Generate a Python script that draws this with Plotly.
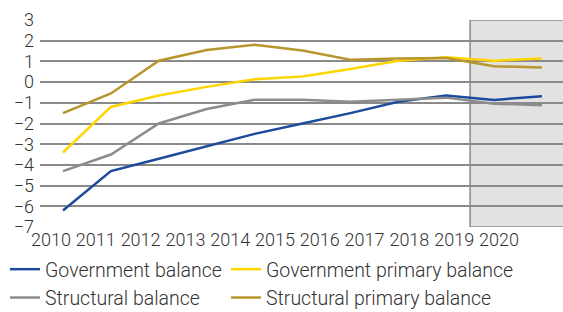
import plotly.graph_objects as go

years = list(range(2010, 2021))
gov_balance = [-6.2, -4.3, -3.7, -3.1, -2.5, -2.0, -1.5, -0.95, -0.65, -0.86, -0.68]
gov_primary = [-3.4, -1.2, -0.65, -0.23, 0.14, 0.27, 0.63, 1.03, 1.2, 1.03, 1.14]
struct_balance = [-4.3, -3.5, -2.0, -1.3, -0.85, -0.85, -0.95, -0.86, -0.75, -1.04, -1.12]
struct_primary = [-1.5, -0.55, 1.03, 1.55, 1.8, 1.53, 1.08, 1.14, 1.16, 0.77, 0.70]
series_names = ["Government balance", "Government primary balance",
                "Structural balance", "Structural primary balance"]
colors = ["#1c4a9c", "#ffd500", "#8c8c8c", "#b8962e"]
legend_groups = ["legend", "legend2", "legend", "legend2"]
y_ticks = list(range(-7, 4))
forecast_start = 2018.5

FONT = dict(family="Roboto", size=18, color="#333333", weight=300)
LFONT = dict(family="Roboto", size=19.5, color="#333333", weight=300)

fig = go.Figure()
for name, vals, col, lg in zip(series_names,
                               [gov_balance, gov_primary, struct_balance, struct_primary],
                               colors, legend_groups):
    fig.add_trace(go.Scatter(x=years, y=vals, mode="lines", name=name,
                             line=dict(color=col, width=2.5), legend=lg))

# invisible carrier trace so the tick-label axis is drawn
fig.add_trace(go.Scatter(x=years, y=[None] * len(years), xaxis="x2",
                         showlegend=False, hoverinfo="skip"))

fig.add_shape(type="rect", xref="x", yref="y", x0=forecast_start, x1=2021,
              y0=-7, y1=3, fillcolor="#e2e2e2", layer="below",
              line=dict(color="#8a8a8a", width=1.5))

leg_common = dict(orientation="h", xref="container", yref="container",
                  xanchor="left", yanchor="top", font=LFONT,
                  bgcolor="rgba(0,0,0,0)", tracegroupgap=0, itemwidth=30)

fig.update_layout(
    width=563, height=312,
    margin=dict(l=40, r=0, t=20, b=85),
    paper_bgcolor="#ffffff", plot_bgcolor="#ffffff",
    font=FONT,
    showlegend=True,
    legend=dict(x=5 / 563, y=1 - 250 / 312, entrywidth=300,
                entrywidthmode="pixels", **leg_common),
    legend2=dict(x=226 / 563, y=1 - 250 / 312, **leg_common),
    xaxis=dict(range=[2009.52, 2020.44], showticklabels=False, showgrid=False,
               zeroline=False, ticks=""),
    xaxis2=dict(overlaying="x", anchor="y", side="bottom",
                range=[2009.754, 2021.43], tickvals=years,
                ticktext=[str(y) for y in years], showgrid=False,
                zeroline=False, ticks="", tickfont=FONT),
    yaxis=dict(range=[-7, 3], tickvals=y_ticks, showgrid=True,
               gridcolor="#8a8a8a", gridwidth=1.5, zeroline=False,
               ticks="", tickfont=FONT, ticklabelstandoff=5),
)

fig.write_html(
    "out.html", config={"displayModeBar": False},
    post_script=("document.documentElement.style.overflow='hidden';"
                 "document.body.style.overflow='hidden';"
                 "document.body.style.background='#ffffff';"
                 "document.body.style.margin='0';"))
